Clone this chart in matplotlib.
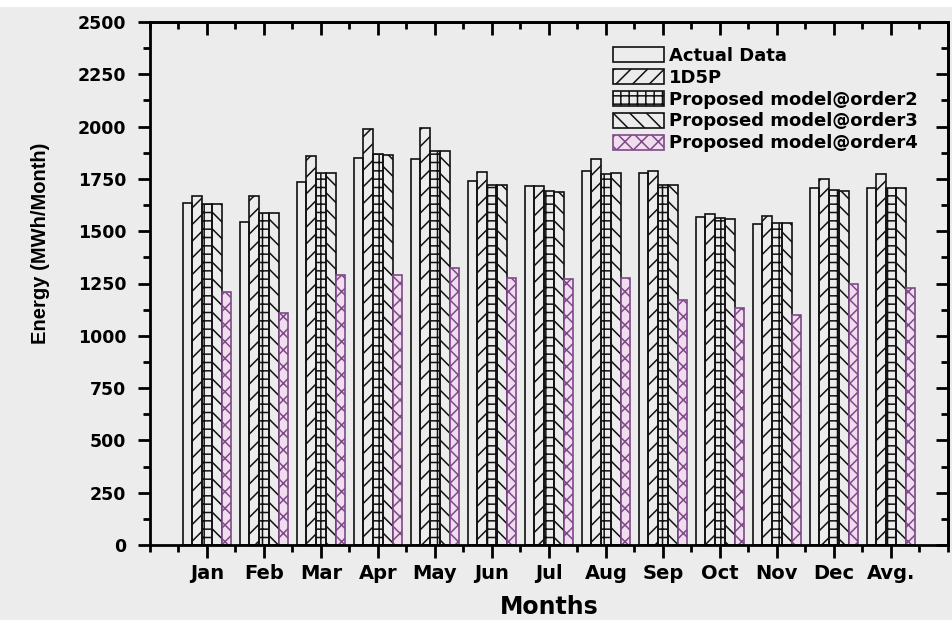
import matplotlib
matplotlib.use('Agg')
import matplotlib.pyplot as plt
import numpy as np
from matplotlib.ticker import MultipleLocator
from matplotlib.patches import Rectangle

months = ['Jan', 'Feb', 'Mar', 'Apr', 'May', 'Jun', 'Jul', 'Aug', 'Sep', 'Oct', 'Nov', 'Dec', 'Avg.']
actual = [1635, 1545, 1735, 1850, 1845, 1740, 1715, 1790, 1780, 1570, 1535, 1705, 1705]
d1d5p = [1670, 1670, 1860, 1990, 1995, 1785, 1718, 1845, 1790, 1580, 1575, 1748, 1772]
order2 = [1632, 1588, 1778, 1868, 1885, 1720, 1690, 1775, 1720, 1563, 1540, 1696, 1707]
order3 = [1630, 1586, 1778, 1866, 1884, 1719, 1688, 1776, 1719, 1560, 1538, 1694, 1705]
order4 = [1207, 1108, 1290, 1290, 1325, 1276, 1270, 1276, 1170, 1132, 1100, 1246, 1228]

series = [actual, d1d5p, order2, order3, order4]
labels = ['Actual Data', '1D5P', 'Proposed model@order2',
          'Proposed model@order3', 'Proposed model@order4']
hatches = ['', '//', '++', '\\\\', 'xx']
faces = ['none', 'none', 'none', 'none', '#f2dcef']
edges = ['#111111', '#111111', '#111111', '#111111', '#7d4a88']

plt.rcParams['font.family'] = ['DejaVu Sans']
plt.rcParams['hatch.linewidth'] = 1.1

bg = '#ececec'
fig = plt.figure(figsize=(9.53, 6.2), dpi=100, facecolor=bg)
fig.patches.append(Rectangle((0, 613 / 620), 1, 7 / 620, transform=fig.transFigure,
                             facecolor='white', edgecolor='none', zorder=-1))
ax = fig.add_axes([150 / 953, 75 / 620, 798 / 953, 523 / 620], facecolor=bg)

x = np.arange(1, len(months) + 1)
w = 0.17
for i, (vals, lab) in enumerate(zip(series, labels)):
    ax.bar(x + (i - 2) * w, vals, w, label=lab, facecolor=faces[i],
           edgecolor=edges[i], hatch=hatches[i], linewidth=1.2)

ax.set_xlim(0, 14)
ax.set_ylim(0, 2500)
ax.set_xticks(x)
ax.set_xticklabels(months, fontsize=14, fontweight='bold')
ax.xaxis.set_minor_locator(MultipleLocator(0.5))
ax.yaxis.set_major_locator(MultipleLocator(250))
ax.yaxis.set_minor_locator(MultipleLocator(125))
for t in ax.get_yticklabels():
    t.set_fontweight('bold')
    t.set_fontsize(12.5)

ax.tick_params(which='major', length=9, width=2, direction='out')
ax.tick_params(which='minor', length=5, width=2, direction='out')
ax.tick_params(axis='x', which='major', pad=5)
ax.tick_params(axis='y', which='major', pad=8)

# inward ticks on top and right
top = ax.secondary_xaxis('top')
top.set_xticks(x)
top.xaxis.set_minor_locator(MultipleLocator(0.5))
top.tick_params(which='major', length=9, width=2, direction='in', labeltop=False)
top.tick_params(which='minor', length=5, width=2, direction='in')
right = ax.secondary_yaxis('right')
right.yaxis.set_major_locator(MultipleLocator(250))
right.yaxis.set_minor_locator(MultipleLocator(125))
right.tick_params(which='major', length=9, width=2, direction='in', labelright=False)
right.tick_params(which='minor', length=5, width=2, direction='in')

for s in list(ax.spines.values()) + list(top.spines.values()) + list(right.spines.values()):
    s.set_linewidth(2)

ax.set_xlabel('Months', fontsize=17, fontweight='bold', labelpad=8)
ax.set_ylabel('Energy (MWh/Month)', fontsize=14.5, fontweight='bold',
              family='Liberation Sans')
ax.yaxis.set_label_coords(-0.125, 0.577)

ax.legend(loc='upper left', bbox_to_anchor=(463 / 798, 0.952), frameon=False,
          prop={'weight': 'bold', 'size': 13}, handlelength=2.8,
          handleheight=0.9, handletextpad=0.3, labelspacing=0.21,
          borderaxespad=0, borderpad=0)

fig.savefig('out.png', dpi=100, facecolor=bg)
